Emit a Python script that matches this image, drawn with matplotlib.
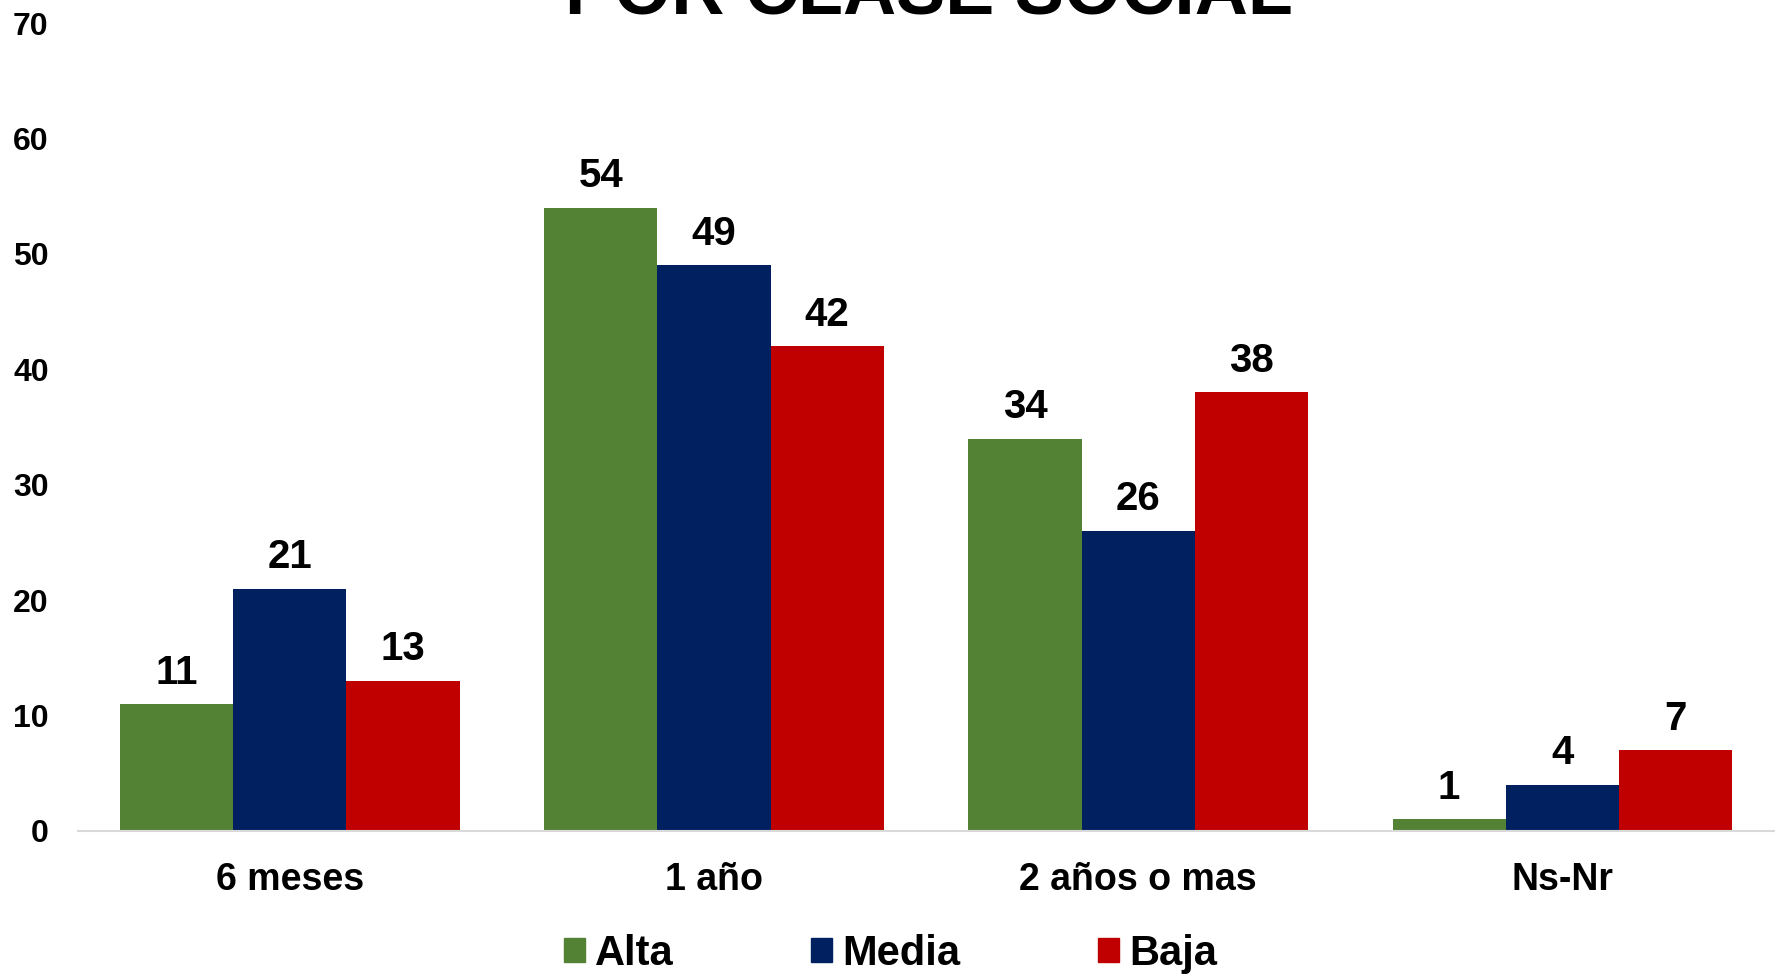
import numpy as np
from matplotlib import pyplot as plt
from matplotlib.patches import Patch

categories = ["6 meses", "1 año", "2 años o mas", "Ns-Nr"]
series_names = ["Alta", "Media", "Baja"]
alta = [11, 54, 34, 1]
media = [21, 49, 26, 4]
baja = [13, 42, 38, 7]
title = "POR CLASE SOCIAL"
yticks = [0, 10, 20, 30, 40, 50, 60, 70]

colors = ["#548235", "#002060", "#C00000"]


def main():
    plt.rcParams['font.family'] = ['Liberation Sans', 'DejaVu Sans']
    plt.rcParams['font.weight'] = 'bold'
    fig = plt.figure(figsize=(17.81, 9.76), dpi=100)
    ax = fig.add_axes([0.0437, 0.1486, 0.9525, 0.8278])

    x = np.arange(len(categories))
    width = 0.8 / 3
    for (i, vals) in enumerate([alta, media, baja]):
        bars = ax.bar(x + (i - 1) * width, vals, width, color=colors[i],
                      label=series_names[i])
        ax.bar_label(bars, padding=9, fontsize=29, fontweight='bold')

    ax.set_xlim(-0.5, 3.5)
    ax.set_ylim(0, 70)
    ax.set_yticks(yticks)
    ax.set_yticklabels([str(t) for t in yticks], fontsize=23,
                       fontweight='bold')
    ax.set_xticks(x)
    ax.set_xticklabels(categories, fontsize=27, fontweight='bold')
    ax.tick_params(axis='y', length=0, pad=21)
    ax.tick_params(axis='x', length=0, pad=22)
    for s in ['top', 'right', 'left']:
        ax.spines[s].set_visible(False)
    ax.spines['bottom'].set_color('#d9d9d9')
    ax.spines['bottom'].set_linewidth(1.5)

    # title sits mostly above the canvas, only its bottom shows
    fig.text(0.5216, 1 - 14/976, title, fontsize=53, fontweight='bold',
             ha='center', va='baseline')

    handles = [Patch(color=c) for c in colors]
    fig.legend(handles, series_names, loc='center',
               bbox_to_anchor=(0.5, 1 - 954/976), ncol=3, frameon=False,
               handlelength=0.5, handleheight=0.5,
               handletextpad=0.25, columnspacing=3.3,
               prop={'weight': 'bold', 'size': 30})
    fig.savefig("out.png")


if __name__ == "__main__":
    main()
